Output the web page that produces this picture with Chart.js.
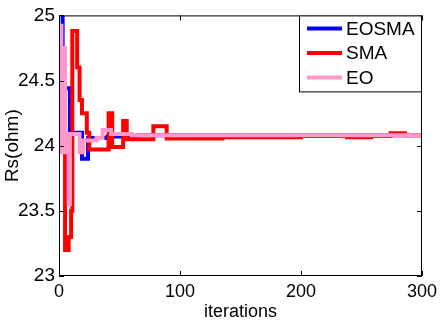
<!DOCTYPE html>
<html lang="en">
<head>
  <meta charset="UTF-8" />
  <title>Rs(ohm) vs iterations</title>
  <script src="https://cdn.jsdelivr.net/npm/chart.js"></script>
  <style>
    body { margin: 0; padding: 0; background: #fff; }
    #rsChart { display: block; }
  </style>
</head>
<body>
  <canvas id="rsChart" width="442" height="322"></canvas>
  <script>
    // values (value holds from its iteration until the next one)
    const eosmaIter = [0, 3, 9, 19, 24, 40, 65, 300];
    const eosmaRs   = [25.05, 24.44, 24.1, 23.9, 24.06, 24.07, 24.08, 24.08];

    const smaIter = [0, 5, 8, 10, 11, 15, 17, 19, 23, 25, 41, 44, 53, 56, 78, 89, 135, 200, 238, 258, 274, 286, 300];
    const smaRs   = [24.63, 23.2, 23.3, 23.5, 24.88, 24.6, 24.35, 24.25, 24.1, 23.97, 24.25, 23.99, 24.19, 24.05, 24.15, 24.055, 24.065, 24.075, 24.065, 24.075, 24.095, 24.08, 24.08];

    const eoIter = [0, 2, 4, 5, 6, 8, 9, 17, 20, 31, 36, 43, 60, 300];
    const eoRs   = [24.92, 23.95, 24.75, 23.95, 24.08, 23.55, 24.09, 23.95, 24.04, 24.06, 24.12, 24.09, 24.08, 24.08];

    const xTicks = [0, 100, 200, 300];
    const yTicks = [23, 23.5, 24, 24.5, 25];

    const toPoints = (xs, ys) => xs.map((x, i) => ({ x: x, y: ys[i] }));

    Chart.defaults.font.family = "'Liberation Sans', Arial, sans-serif";
    Chart.defaults.color = '#000';

    // MATLAB-like box, inward ticks and legend inside the axes
    const matlabAxes = {
      id: 'matlabAxes',
      afterDraw(chart) {
        const { ctx, chartArea: a, scales } = chart;
        ctx.save();
        ctx.strokeStyle = '#000';
        ctx.lineWidth = 1;
        ctx.strokeRect(a.left + 0.5, a.top + 0.5, a.right - a.left - 1, a.bottom - a.top - 1);
        ctx.beginPath();
        xTicks.forEach(v => {
          const px = Math.round(scales.x.getPixelForValue(v)) + 0.5;
          ctx.moveTo(px, a.bottom); ctx.lineTo(px, a.bottom - 5);
          ctx.moveTo(px, a.top); ctx.lineTo(px, a.top + 5);
        });
        yTicks.forEach(v => {
          const py = Math.round(scales.y.getPixelForValue(v)) + 0.5;
          ctx.moveTo(a.left, py); ctx.lineTo(a.left + 5, py);
          ctx.moveTo(a.right, py); ctx.lineTo(a.right - 5, py);
        });
        ctx.stroke();

        // legend
        const bx = 299, by = a.top, bw = a.right - bx, bh = 77;
        ctx.fillStyle = '#fff';
        ctx.fillRect(bx, by, bw, bh);
        ctx.strokeRect(bx + 0.5, by + 0.5, bw - 1, bh - 1);
        ctx.font = "19px 'Liberation Sans', Arial, sans-serif";
        ctx.textBaseline = 'middle';
        chart.data.datasets.forEach((ds, i) => {
          const ry = by + 13 + i * 24.5;
          ctx.strokeStyle = ds.borderColor;
          ctx.lineWidth = 4;
          ctx.beginPath();
          ctx.moveTo(307, ry); ctx.lineTo(342, ry);
          ctx.stroke();
          ctx.fillStyle = '#000';
          ctx.fillText(ds.label, 346, ry + 1);
        });
        ctx.restore();
      }
    };

    new Chart(document.getElementById('rsChart'), {
      type: 'line',
      data: {
        datasets: [
          { label: 'EOSMA', data: toPoints(eosmaIter, eosmaRs), borderColor: '#0000ff', order: 3 },
          { label: 'SMA', data: toPoints(smaIter, smaRs), borderColor: '#ff0000', order: 2 },
          { label: 'EO', data: toPoints(eoIter, eoRs), borderColor: '#ff99cc', order: 1 }
        ]
      },
      options: {
        responsive: false,
        devicePixelRatio: 1,
        animation: false,
        layout: { padding: { top: 11, right: 19, left: 0, bottom: 0 } },
        elements: {
          line: { borderWidth: 4, stepped: true, tension: 0, borderJoinStyle: 'miter' },
          point: { radius: 0 }
        },
        datasets: { line: { clip: 0 } },
        plugins: { legend: { display: false }, tooltip: { enabled: false } },
        scales: {
          x: {
            type: 'linear',
            min: 0, max: 300,
            afterBuildTicks: s => { s.ticks = xTicks.map(v => ({ value: v })); },
            afterFit: s => { s.height = 46; },
            grid: { display: false, drawTicks: false },
            border: { display: false },
            ticks: { font: { size: 18 }, padding: 5, maxRotation: 0, callback: v => String(v) },
            title: { display: true, text: 'iterations', font: { size: 18 }, padding: { top: 0, bottom: -1 } }
          },
          y: {
            type: 'linear',
            min: 23, max: 25,
            afterBuildTicks: s => { s.ticks = yTicks.map(v => ({ value: v })); },
            afterFit: s => { s.width = 59; },
            grid: { display: false, drawTicks: false },
            border: { display: false },
            ticks: { font: { size: 19 }, padding: 4, callback: v => String(v) },
            title: { display: true, text: 'Rs(ohm)', font: { size: 19 }, padding: { top: 1, bottom: 0 } }
          }
        }
      },
      plugins: [matlabAxes]
    });
  </script>
</body>
</html>
